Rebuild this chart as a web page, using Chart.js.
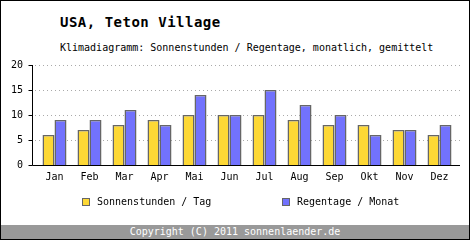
<!DOCTYPE html>
<html>
<head>
<meta charset="utf-8">
<script src="https://cdn.jsdelivr.net/npm/chart.js@4"></script>
<style>
  body { margin: 0; background: #fff; }
  #box { position: relative; width: 470px; height: 240px; box-sizing: border-box; border: 1px solid #000; background: #fff; overflow: hidden; font-family: "DejaVu Sans Mono", monospace; }
  #titel { position: absolute; left: 59px; top: 13px; font-size: 14px; letter-spacing: 0.5px; font-weight: bold; color: #000; }
  #untertitel { position: absolute; left: 59px; top: 41px; font-size: 10px; color: #000; }
  #fuss { position: absolute; left: 0; top: 224px; width: 468px; height: 14px; background: #999; color: #fff; font-size: 10px; line-height: 14px; text-align: center; }
  #wrap { position: absolute; left: 0; top: 0; width: 468px; height: 224px; }
  .leg { position: absolute; top: 195px; font-size: 10px; line-height: 12px; color: #000; white-space: nowrap; }
  .leg span { display: inline-block; width: 6px; height: 6px; border: 1px solid #666; margin-right: 7px; vertical-align: -1px; }
</style>
</head>
<body>
<div id="box">
  <div id="titel">USA, Teton Village</div>
  <div id="untertitel">Klimadiagramm: Sonnenstunden / Regentage, monatlich, gemittelt</div>
  <div id="wrap"><canvas id="grafico"></canvas></div>
  <div id="legende"></div>
  <div id="fuss">Copyright (C) 2011 sonnenlaender.de</div>
</div>
<script>
var monate = ["Jan", "Feb", "Mar", "Apr", "Mai", "Jun", "Jul", "Aug", "Sep", "Okt", "Nov", "Dez"];
var sonnenstunden = [6, 7, 8, 9, 10, 10, 10, 9, 8, 8, 7, 6];
var regentage = [9, 9, 11, 8, 14, 10, 15, 12, 10, 6, 7, 8];
var yTicks = [0, 5, 10, 15, 20];

var schrift = "DejaVu Sans Mono";

// achsen und punktiertes raster wie im original (links etwas vor der flaeche)
var achsenPlugin = {
    id: 'achsen',
    beforeDatasetsDraw: function (chart) {
        var ctx = chart.ctx;
        var area = chart.chartArea;
        var y = chart.scales.y;
        var x0 = area.left - 5;
        var x1 = area.right + 3;
        ctx.save();
        ctx.strokeStyle = "#aaa";
        ctx.lineWidth = 1;
        ctx.setLineDash([1, 3]);
        yTicks.forEach(function (t) {
            if (t === 0) return;
            var py = Math.round(y.getPixelForValue(t)) + 0.5;
            ctx.beginPath();
            ctx.moveTo(x0 + 3, py);
            ctx.lineTo(x1, py);
            ctx.stroke();
        });
        ctx.restore();
    },
    afterDatasetsDraw: function (chart) {
        var ctx = chart.ctx;
        var area = chart.chartArea;
        var y = chart.scales.y;
        var x0 = area.left - 5 + 0.5;
        var x1 = area.right + 3;
        var yb = Math.round(y.getPixelForValue(0)) + 0.5;
        var yt = Math.round(y.getPixelForValue(20));
        ctx.save();
        ctx.strokeStyle = "#000";
        ctx.lineWidth = 1;
        ctx.beginPath();
        ctx.moveTo(x0, yt);
        ctx.lineTo(x0, yb);
        ctx.lineTo(x1, yb);
        yTicks.forEach(function (t) {
            var py = Math.round(y.getPixelForValue(t)) + 0.5;
            ctx.moveTo(x0 - 4, py);
            ctx.lineTo(x0, py);
        });
        ctx.stroke();
        ctx.restore();
    }
};

var grafico = new Chart(document.getElementById("grafico"), {
    type: 'bar',
    data: {
        labels: monate,
        datasets: [{
            label: "Sonnenstunden / Tag",
            data: sonnenstunden,
            backgroundColor: "#fdd835",
            borderColor: "#666",
            borderWidth: 1.5
        }, {
            label: "Regentage / Monat",
            data: regentage,
            backgroundColor: "#7272fd",
            borderColor: "#666",
            borderWidth: 1.5
        }]
    },
    options: {
        responsive: true,
        maintainAspectRatio: false,
        animation: false,
        datasets: { bar: { categoryPercentage: 24 / 35, barPercentage: 1.0 } },
        layout: { padding: { top: 64, right: 12, left: 0, bottom: 42 } },
        plugins: {
            title: { display: false },
            tooltip: { enabled: false },
            legend: { display: false }
        },
        scales: {
            x: {
                grid: { display: false, drawTicks: false },
                border: { display: false },
                ticks: { color: "#000", padding: 6, autoSkip: false, maxRotation: 0, font: { family: schrift, size: 10 } },
                afterFit: function (s) { s.height = 18; }
            },
            y: {
                min: 0,
                max: 20,
                grid: { display: false, drawTicks: false },
                border: { display: false },
                ticks: { stepSize: 5, autoSkip: false, color: "#000", padding: 14, font: { family: schrift, size: 10 } },
                afterFit: function (s) { s.width = 36; }
            }
        }
    },
    plugins: [achsenPlugin]
});

// legende aus den datensaetzen
var legPos = [81, 281];
grafico.data.datasets.forEach(function (ds, i) {
    var d = document.createElement("div");
    d.className = "leg";
    d.style.left = legPos[i] + "px";
    d.innerHTML = '<span style="background:' + ds.backgroundColor + '"></span>' + ds.label;
    document.getElementById("legende").appendChild(d);
});
</script>
</body>
</html>
